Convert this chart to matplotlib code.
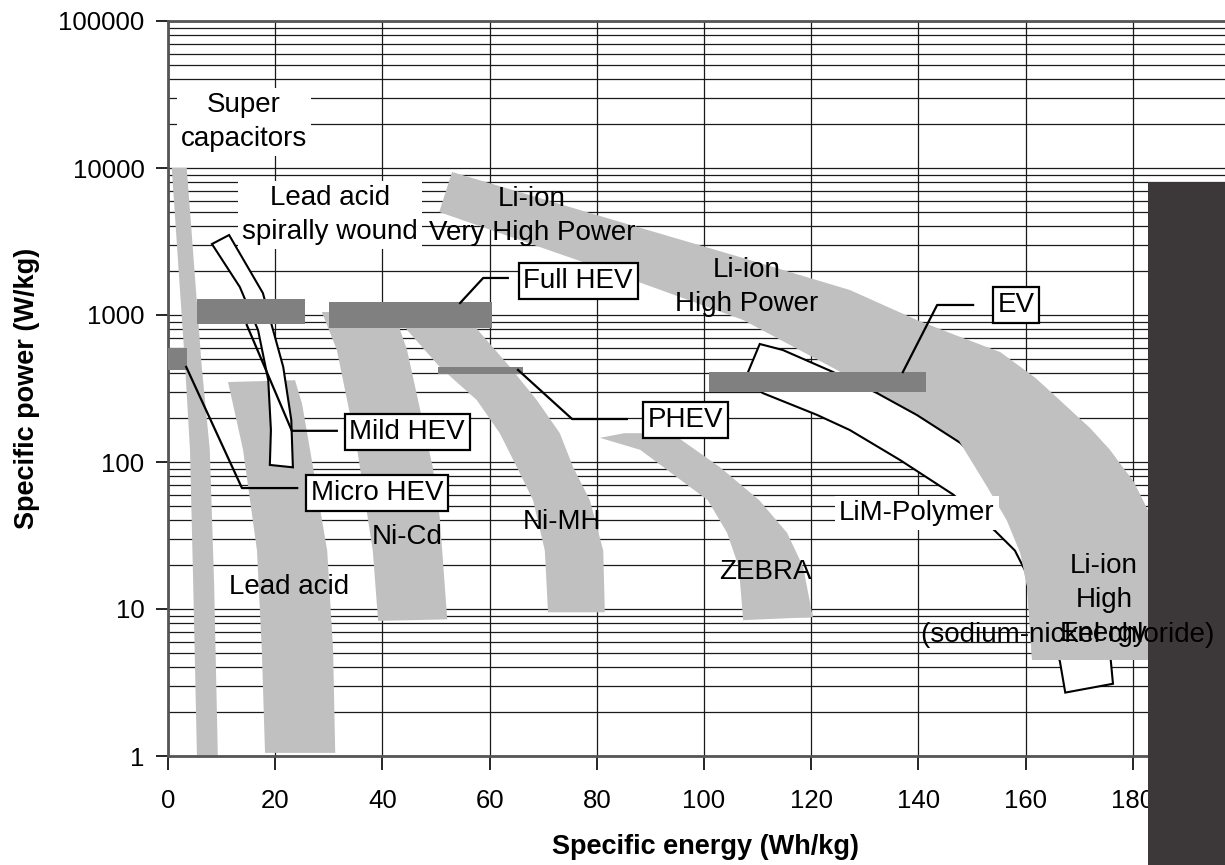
import matplotlib.pyplot as plt
from matplotlib.patches import Polygon, Rectangle
from matplotlib.ticker import FixedLocator, LogLocator, NullFormatter

plt.rcParams['font.family'] = ['Liberation Sans', 'DejaVu Sans']

# region outlines: specific energy (Wh/kg) / specific power (W/kg)
supercap_e = [0.7, 3.2, 4.1, 4.7, 5.4, 9.3, 8.6, 7.8, 6.3, 3.5]
supercap_p = [10000, 443, 121, 15, 1, 1, 15, 121, 443, 10000]

leadacid_e = [11.2, 23.7, 25.0, 26.5, 29.7, 30.8, 31.2, 18.1, 17.5, 16.6, 14.0]
leadacid_p = [350, 360, 250, 121, 25, 5.3, 1.05, 1.05, 5.3, 25, 121]

spiral_e = [8.2, 13.4, 16.8, 18.7, 19.2, 19.0, 23.3, 23.0, 21.5, 17.7, 11.4]
spiral_p = [3040, 1550, 790, 361, 165, 95.5, 92, 193, 443, 1410, 3500]

nicd_e = [28.7, 31.5, 35.3, 38.2, 39.2, 52.1, 50.7, 49.4, 44.6, 43.3, 42.4]
nicd_p = [1048, 578, 121, 25, 8.3, 8.5, 42, 92, 578, 791, 1048]

nimh_e = [42.4, 44.6, 50.7, 57.6, 61.9, 65.1, 68.1, 70.3, 70.9,
          81.5, 81.2, 78.7, 75.6, 73.1, 68.8, 63.8, 57.8, 54.9]
nimh_p = [1082, 791, 443, 264, 157, 92, 55, 25, 9.5,
          9.5, 25, 55, 92, 157, 264, 443, 791, 1082]

zebra_e = [80.6, 85.1, 94.0, 103.0, 110.3, 115.5, 118.5, 120.3,
           107.3, 106.5, 104.3, 100.7, 88.1]
zebra_p = [146, 157, 157, 92, 55, 33, 19.3, 8.8,
           8.4, 19.3, 33, 55, 121]

liion_e = [53.0, 80.6, 105.4, 127.2, 139.7, 145.9, 155.2, 161.8, 167.7, 172.0, 175.7,
           178.5, 180.0, 182.8, 189.7, 192.5,
           161.2, 160.3, 159.0, 156.5, 152.8, 147.8, 139.7, 132.3, 124.1, 107.3, 80.6, 50.6]
liion_p = [9390, 4715, 2559, 1480, 925, 754, 560, 373, 237, 170, 121,
           88, 75, 47, 15.7, 4.5,
           4.5, 14.1, 24, 40, 68, 135, 212, 299, 436, 925, 2089, 5020]

liion_he_e = [144.0, 147.8, 152.8, 156.5, 159.0, 160.3, 161.2, 192.5, 189.7, 182.8,
              180.0, 178.5, 175.7, 172.0, 167.7, 161.8, 155.2, 145.9]
liion_he_p = [264, 135, 68, 40, 24, 14.1, 4.5, 4.5, 15.7, 47,
              75, 88, 121, 170, 237, 373, 560, 676]

lim_e = [107.6, 110.4, 114.7, 124.1, 132.3, 139.7, 147.8, 162.7, 172.0, 175.7, 176.3,
         167.4, 166.4, 162.7, 158.0, 154.3, 146.5, 136.6, 127.2, 121.1, 111.0]
lim_p = [361, 635, 578, 409, 294, 209, 135, 40, 13.5, 5.3, 3.1,
         2.7, 4.4, 11.5, 25, 34, 60, 103, 165, 209, 294]

# vehicle requirement bars
bar_names = ['Micro HEV', 'Mild HEV', 'Full HEV', 'PHEV', 'EV']
bar_e0 = [0, 5.4, 30, 50.4, 101]
bar_e1 = [3.5, 25.6, 60.4, 66.2, 141.4]
bar_p0 = [423, 868, 816, 397, 299]
bar_p1 = [597, 1285, 1225, 443, 409]

# leader lines (bar -> elbow -> box) and box centres
lead_e = [[3.4, 13.8, 24.1], [14.7, 23.1, 31.5], [54.5, 58.8, 63.4],
          [65.3, 75.4, 85.6], [137.1, 143.5, 150.2]]
lead_p = [[443, 66.5, 66.5], [855, 163, 163], [1207, 1786, 1786],
          [423, 196, 196], [409, 1170, 1170]]
box_e = [39.0, 44.6, 76.5, 96.6, 158.2]
box_p = [61.5, 160, 1703, 193, 1170]

fig = plt.figure(figsize=(12.25, 8.65), dpi=100)
ax = fig.add_axes([168 / 1225, 109 / 865, 1072 / 1225, 735 / 865])
ax.set_yscale('log')
ax.set_xlim(0, 200)
ax.set_ylim(1, 100000)

ax.set_axisbelow(True)
ax.yaxis.set_minor_locator(LogLocator(base=10, subs=range(2, 10)))
ax.yaxis.set_minor_formatter(NullFormatter())
ax.yaxis.set_major_locator(FixedLocator([1, 10, 100, 1000, 10000, 100000]))
ax.set_yticklabels(['1', '10', '100', '1000', '10000', '100000'])
ax.set_xticks(range(0, 181, 20))
ax.grid(True, which='both', axis='y', color='#1a1a1a', lw=0.9)
ax.grid(True, which='major', axis='x', color='#1a1a1a', lw=0.9)
ax.tick_params(axis='y', which='major', length=9, width=1.2, pad=8, labelsize=18.5)
ax.tick_params(axis='x', which='major', length=10, width=1.2, pad=14, labelsize=18.5)
ax.tick_params(which='minor', length=0)
for s in ax.spines.values():
    s.set_color('#555555')
    s.set_linewidth(2)

gray = '#c0c0c0'
for e, p in [(supercap_e, supercap_p), (leadacid_e, leadacid_p), (nicd_e, nicd_p),
             (nimh_e, nimh_p), (zebra_e, zebra_p), (liion_e, liion_p)]:
    ax.add_patch(Polygon(list(zip(e, p)), closed=True, fc=gray, ec='none', zorder=1))

ax.add_patch(Polygon(list(zip(spiral_e, spiral_p)), closed=True, fc='white',
                     ec='black', lw=1.5, zorder=2))
ax.add_patch(Polygon(list(zip(lim_e, lim_p)), closed=True, fc='white',
                     ec='black', lw=1.5, zorder=2))
ax.add_patch(Polygon(list(zip(liion_he_e, liion_he_p)), closed=True, fc=gray,
                     ec='none', zorder=2.5))

for i in range(len(bar_names)):
    ax.add_patch(Rectangle((bar_e0[i], bar_p0[i]), bar_e1[i] - bar_e0[i],
                           bar_p1[i] - bar_p0[i], fc='#808080', ec='none', zorder=3))
    ax.plot(lead_e[i], lead_p[i], color='black', lw=1.6, zorder=4)
    ax.text(box_e[i], box_p[i], bar_names[i], fontsize=20, ha='center', va='center',
            zorder=5, bbox=dict(boxstyle='square,pad=0.17', fc='white', ec='black', lw=1.6))

plain = dict(fontsize=20, ha='center', va='center', zorder=5, linespacing=1.42)
white = dict(boxstyle='square,pad=0.15', fc='white', ec='none')
ax.text(14.2, 20560, 'Super\ncapacitors', bbox=white, **plain)
ax.text(30.2, 4790, 'Lead acid\nspirally wound', bbox=white, **plain)
ax.text(67.9, 4715, 'Li-ion\nVery High Power', **plain)
ax.text(108, 1550, 'Li-ion\nHigh Power', **plain)
ax.text(139.7, 45, 'LiM-Polymer', bbox=white, **plain)
ax.text(111.4, 17.9, 'ZEBRA', **plain)
ax.text(22.6, 14.1, 'Lead acid', **plain)
ax.text(44.6, 30.9, 'Ni-Cd', **plain)
ax.text(73.5, 39, 'Ni-MH', **plain)
ax.text(174.6, 11.5, 'Li-ion\nHigh\nEnergy', **plain)

ax.set_xlabel('Specific energy (Wh/kg)', fontsize=19.5, fontweight='bold')
ax.set_ylabel('Specific power (W/kg)', fontsize=19.5, fontweight='bold')
ax.xaxis.set_label_coords(0.501, -0.106)
ax.yaxis.set_label_coords(-0.119, 0.5)

# dark strip over the right edge of the figure
fig.add_artist(Rectangle((1148 / 1225, 0), 77 / 1225, 683 / 865, transform=fig.transFigure,
                         fc='#3c3738', ec='none', zorder=5))
fig.text(167.9, 6.65, '(sodium-nickel chloride)', transform=ax.transData, fontsize=20,
         ha='center', va='center', zorder=6)

fig.savefig('out.png', dpi=100)
